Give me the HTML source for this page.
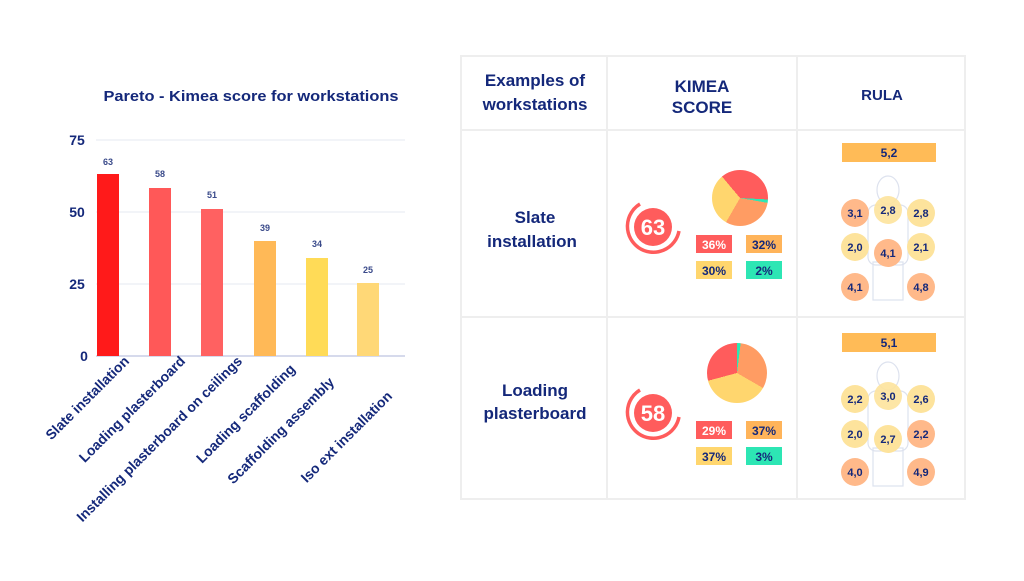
<!DOCTYPE html>
<html><head><meta charset="utf-8"><style>
body{margin:0;background:#fff;}
svg text{font-family:"Liberation Sans",sans-serif;font-weight:bold;}
</style></head><body>
<svg width="1024" height="576" viewBox="0 0 1024 576" xmlns="http://www.w3.org/2000/svg">
<rect width="1024" height="576" fill="#fff"/>
<!-- chart -->
<text x="251" y="101" text-anchor="middle" font-size="15" fill="#14287a" textLength="295" lengthAdjust="spacingAndGlyphs">Pareto - Kimea score for workstations</text>
<g stroke="#eef0f6" stroke-width="1.5">
<line x1="96" y1="140" x2="405" y2="140"/><line x1="96" y1="212" x2="405" y2="212"/><line x1="96" y1="284" x2="405" y2="284"/>
</g>
<line x1="96" y1="356" x2="405" y2="356" stroke="#c8cde6" stroke-width="1.5"/>
<g font-size="14" fill="#14287a" text-anchor="middle">
<text x="77" y="145">75</text><text x="77" y="217">50</text><text x="77" y="289">25</text><text x="84" y="361">0</text>
</g>
<g>
<rect x="97" y="174" width="22" height="182" fill="#ff1a1a"/>
<rect x="149" y="188" width="22" height="168" fill="#ff5858"/>
<rect x="201" y="209" width="22" height="147" fill="#ff6161"/>
<rect x="254" y="241" width="22" height="115" fill="#ffb957"/>
<rect x="306" y="258" width="22" height="98" fill="#ffdb57"/>
<rect x="357" y="283" width="22" height="73" fill="#ffd877"/>
</g>
<g font-size="9" fill="#3a4a8a" text-anchor="middle">
<text x="108" y="165">63</text><text x="160" y="177">58</text><text x="212" y="198">51</text><text x="265" y="231">39</text><text x="317" y="247">34</text><text x="368" y="273">25</text>
</g>
<g font-size="14" fill="#14287a" text-anchor="end">
<text transform="translate(130,362) rotate(-45)">Slate installation</text>
<text transform="translate(186,362) rotate(-45)">Loading plasterboard</text>
<text transform="translate(243,362) rotate(-45)">Installing plasterboard on ceilings</text>
<text transform="translate(296,370) rotate(-45)">Loading scaffolding</text>
<text transform="translate(335,383) rotate(-45)">Scaffolding assembly</text>
<text transform="translate(393,397) rotate(-45)">Iso ext installation</text>
</g>
<!-- table -->
<g stroke="#eeeeee" stroke-width="2" fill="none">
<rect x="461" y="56" width="504" height="443"/>
<line x1="607" y1="56" x2="607" y2="499"/><line x1="797" y1="56" x2="797" y2="499"/>
<line x1="461" y1="130" x2="965" y2="130"/><line x1="461" y1="317" x2="965" y2="317"/>
</g>
<g font-size="17" fill="#14287a" text-anchor="middle">
<text x="535" y="86">Examples of</text><text x="535" y="110">workstations</text>
<text x="702" y="92">KIMEA</text><text x="702" y="113">SCORE</text>
<text x="882" y="100" font-size="15">RULA</text>
<text x="535" y="223">Slate</text><text x="532" y="247">installation</text>
<text x="535" y="396">Loading</text><text x="535" y="419">plasterboard</text>
</g>
<!-- row1 kimea -->
<circle cx="653" cy="227" r="19" fill="#ff5c5c"/>
<path d="M 679 231 A 26 26 0 1 1 640 204" fill="none" stroke="#ff5c5c" stroke-width="3.5"/>
<text x="653" y="235" font-size="22" fill="#fff" text-anchor="middle">63</text>
<foreignObject x="712" y="170" width="56" height="56"><div xmlns="http://www.w3.org/1999/xhtml" style="width:56px;height:56px;border-radius:50%;background:conic-gradient(from -40deg,#ff5c5c 0 133deg,#2de6b4 133deg 140deg,#ff9c63 140deg 250deg,#ffd66e 250deg 360deg)"></div></foreignObject>
<rect x="696" y="235" width="36" height="18" fill="#ff5c5c"/><text x="714" y="249" font-size="12" fill="#fff" text-anchor="middle">36%</text>
<rect x="746" y="235" width="36" height="18" fill="#ffb45a"/><text x="764" y="249" font-size="12" fill="#14287a" text-anchor="middle">32%</text>
<rect x="696" y="261" width="36" height="18" fill="#ffd66e"/><text x="714" y="275" font-size="12" fill="#14287a" text-anchor="middle">30%</text>
<rect x="746" y="261" width="36" height="18" fill="#2de6b4"/><text x="764" y="275" font-size="12" fill="#14287a" text-anchor="middle">2%</text>
<!-- row2 kimea -->
<circle cx="653" cy="413" r="19" fill="#ff5c5c"/>
<path d="M 679 417 A 26 26 0 1 1 640 390" fill="none" stroke="#ff5c5c" stroke-width="3.5"/>
<text x="653" y="421" font-size="22" fill="#fff" text-anchor="middle">58</text>
<foreignObject x="707" y="343" width="60" height="60"><div xmlns="http://www.w3.org/1999/xhtml" style="width:60px;height:60px;border-radius:50%;background:conic-gradient(#2de6b4 0 7deg,#ff9c63 7deg 120deg,#ffd66e 120deg 255deg,#ff5c5c 255deg 360deg)"></div></foreignObject>
<rect x="696" y="421" width="36" height="18" fill="#ff5c5c"/><text x="714" y="435" font-size="12" fill="#fff" text-anchor="middle">29%</text>
<rect x="746" y="421" width="36" height="18" fill="#ffb45a"/><text x="764" y="435" font-size="12" fill="#14287a" text-anchor="middle">37%</text>
<rect x="696" y="447" width="36" height="18" fill="#ffd66e"/><text x="714" y="461" font-size="12" fill="#14287a" text-anchor="middle">37%</text>
<rect x="746" y="447" width="36" height="18" fill="#2de6b4"/><text x="764" y="461" font-size="12" fill="#14287a" text-anchor="middle">3%</text>
<!-- RULA row1 -->
<rect x="842" y="143" width="94" height="19" fill="#ffbb57"/><text x="889" y="157" font-size="12" fill="#14287a" text-anchor="middle">5,2</text>
<g fill="none" stroke="#dde2ee" stroke-width="1.2">
<ellipse cx="888" cy="190" rx="11" ry="14"/><rect x="868" y="205" width="40" height="60" rx="8"/><rect x="873" y="262" width="30" height="38"/>
<ellipse cx="888" cy="376" rx="11" ry="14"/><rect x="868" y="391" width="40" height="60" rx="8"/><rect x="873" y="448" width="30" height="38"/>
</g>
<g font-size="11" fill="#14287a" text-anchor="middle">
<circle cx="855" cy="213" r="14" fill="#ffb98a"/><text x="855" y="217">3,1</text>
<circle cx="888" cy="210" r="14" fill="#fde39c" opacity=".9"/><text x="888" y="214">2,8</text>
<circle cx="921" cy="213" r="14" fill="#fde39c"/><text x="921" y="217">2,8</text>
<circle cx="855" cy="247" r="14" fill="#fde39c"/><text x="855" y="251">2,0</text>
<circle cx="888" cy="253" r="14" fill="#ffb98a"/><text x="888" y="257">4,1</text>
<circle cx="921" cy="247" r="14" fill="#fde39c"/><text x="921" y="251">2,1</text>
<circle cx="855" cy="287" r="14" fill="#ffb98a"/><text x="855" y="291">4,1</text>
<circle cx="921" cy="287" r="14" fill="#ffb98a"/><text x="921" y="291">4,8</text>
</g>
<rect x="842" y="333" width="94" height="19" fill="#ffbb57"/><text x="889" y="347" font-size="12" fill="#14287a" text-anchor="middle">5,1</text>
<g font-size="11" fill="#14287a" text-anchor="middle">
<circle cx="855" cy="399" r="14" fill="#fde39c"/><text x="855" y="403">2,2</text>
<circle cx="888" cy="396" r="14" fill="#fde39c" opacity=".9"/><text x="888" y="400">3,0</text>
<circle cx="921" cy="399" r="14" fill="#fde39c"/><text x="921" y="403">2,6</text>
<circle cx="855" cy="434" r="14" fill="#fde39c"/><text x="855" y="438">2,0</text>
<circle cx="888" cy="439" r="14" fill="#fde39c"/><text x="888" y="443">2,7</text>
<circle cx="921" cy="434" r="14" fill="#ffb98a"/><text x="921" y="438">2,2</text>
<circle cx="855" cy="472" r="14" fill="#ffb98a"/><text x="855" y="476">4,0</text>
<circle cx="921" cy="472" r="14" fill="#ffb98a"/><text x="921" y="476">4,9</text>
</g>
</svg>
</body></html>
